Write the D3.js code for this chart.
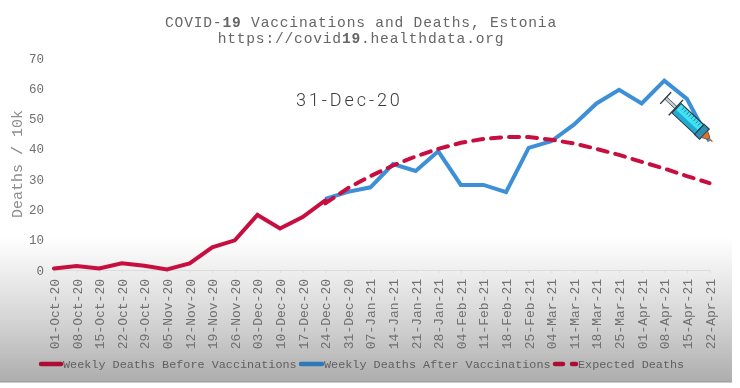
<!DOCTYPE html>
<html><head><meta charset="utf-8">
<script src="https://cdn.jsdelivr.net/npm/d3@7"></script>
<style>html,body{margin:0;padding:0;background:#fff;overflow:hidden}</style></head>
<body><svg id="c" width="740" height="388"></svg>
<script>
const dates=["01-Oct-20","08-Oct-20","15-Oct-20","22-Oct-20","29-Oct-20","05-Nov-20","12-Nov-20","19-Nov-20","26-Nov-20","03-Dec-20","10-Dec-20","17-Dec-20","24-Dec-20","31-Dec-20","07-Jan-21","14-Jan-21","21-Jan-21","28-Jan-21","04-Feb-21","11-Feb-21","18-Feb-21","25-Feb-21","04-Mar-21","11-Mar-21","18-Mar-21","25-Mar-21","01-Apr-21","08-Apr-21","15-Apr-21","22-Apr-21"];
const before=[0.5,1.3,0.5,2.2,1.4,0.2,2.2,7.5,9.8,18.2,13.7,17.5,23];
const after=[23.5,25.8,27.3,35,32.7,39.2,28.1,28.1,25.7,40.3,42.5,48,55,59.5,55,62.5,56.5,42.5];
const expected=[22,27,31,34.5,37.5,40,42,43.3,43.9,43.9,43,41.8,40,38,35.7,33.5,31,28.7];
const afterStart=12;
const yTicks=[0,10,20,30,40,50,60,70];
const titleLines=["COVID-","19"," Vaccinations and Deaths, Estonia"];
const subtitleParts=["https://covid","19",".healthdata.org"];
const legendItems=["Weekly Deaths Before Vaccinations","Weekly Deaths After Vaccinations","Expected Deaths"];
const currentDate="31-Dec-20";
const RED="#c8103f",BLUE="#3d8fd6",LEGRED="#ad0c33",LEGBLUE="#2f78b8",GREY="#707070";
const mono="'Liberation Mono',monospace";

const svg=d3.select("#c");
const defs=svg.append("defs");
const g=defs.append("linearGradient").attr("id","bg").attr("x1",0).attr("x2",0).attr("y1",0).attr("y2",1);
[[0,"#ffffff"],[0.22,"#efefef"],[0.6,"#d2d2d2"],[1,"#adadad"]].forEach(s=>g.append("stop").attr("offset",s[0]).attr("stop-color",s[1]));
defs.append("filter").attr("id","soft").append("feGaussianBlur").attr("stdDeviation",0.35);

const root=svg.append("g").attr("filter","url(#soft)");
root.append("rect").attr("x",0).attr("y",238).attr("width",732).attr("height",144).attr("fill","url(#bg)");
root.append("line").attr("x1",0).attr("x2",732).attr("y1",382).attr("y2",382).attr("stroke","#999").attr("stroke-width",1);

const x=d3.scalePoint().domain(dates).range([54,709.5]);
const y=d3.scaleLinear().domain([0,70]).range([270,58]);

// axes
const ax=root.append("g").attr("transform","translate(0,270)").call(d3.axisBottom(x).tickSize(3).tickSizeOuter(0));
ax.selectAll("path,line").attr("stroke","#dcdcdc").attr("stroke-width",1);
ax.selectAll("text").attr("text-anchor","end").attr("dx",0).attr("dy",0)
  .attr("y",0).attr("x",0)
  .attr("transform","translate(4.5,9) rotate(-90)")
  .attr("font-family",mono).attr("font-size",13).attr("fill",GREY);

const ay=root.append("g").attr("transform","translate(44,0)").call(d3.axisLeft(y).tickValues(yTicks).tickSize(0));
ay.select("path").remove();
ay.selectAll("text").attr("x",0).attr("font-family",mono).attr("font-size",12.5).attr("fill",GREY);

// y title
root.append("text").attr("transform","translate(22,164) rotate(-90)").attr("text-anchor","middle")
  .attr("font-family",mono).attr("font-size",15).attr("fill","#8c8c8c").text("Deaths / 10k");

// title
function rich(parts,yy){
  const t=root.append("text").attr("x",361).attr("y",yy).attr("text-anchor","middle").attr("font-family",mono).attr("font-size",14.6).attr("letter-spacing",0.8).attr("fill","#666");
  parts.forEach((p,i)=>t.append("tspan").attr("font-weight",i==1?"bold":"normal").text(p));
}
rich(titleLines,27);
rich(subtitleParts,43);

// current date
root.append("text").attr("x",296).attr("y",106).attr("font-family","Roboto,sans-serif").attr("font-weight",300).attr("font-size",18).attr("letter-spacing",2.9).attr("fill","#3c3c3c").text(currentDate);

// lines
const line=d3.line().x(d=>x(d.k)).y(d=>y(d.v));
const ser=(arr,s)=>arr.map((v,i)=>({k:dates[i+s],v}));
root.append("path").datum(ser(after,afterStart)).attr("d",line).attr("fill","none").attr("stroke",BLUE).attr("stroke-width",4);
root.append("path").datum(ser(before,0)).attr("d",line).attr("fill","none").attr("stroke",RED).attr("stroke-width",4).attr("stroke-linecap","round");
root.append("path").datum(ser(expected,afterStart)).attr("d",line).attr("fill","none").attr("stroke",RED).attr("stroke-width",4).attr("stroke-dasharray","10 8").attr("stroke-linecap","round");

// legend
const leg=root.append("g").attr("font-family",mono).attr("font-size",11.8).attr("fill","#5f5f5f");
const ly=364;
const swatch=(a,b,c)=>leg.append("line").attr("x1",a).attr("x2",b).attr("y1",ly).attr("y2",ly).attr("stroke",c).attr("stroke-width",4.5).attr("stroke-linecap","round");
swatch(41,61,LEGRED);
leg.append("text").attr("x",63).attr("y",ly+4).text(legendItems[0]);
swatch(301,322,LEGBLUE);
leg.append("text").attr("x",324).attr("y",ly+4).text(legendItems[1]);
swatch(555,563,LEGRED);
swatch(572,576,LEGRED);
leg.append("text").attr("x",578).attr("y",ly+4).text(legendItems[2]);

// syringe icon, anchored at the last "after" point
const dark="#263a4a";
const s=root.append("g").attr("transform",`translate(${x(dates[29])+1.5},${y(after[17])-1}) rotate(43)`);
s.append("line").attr("x1",-62).attr("x2",-48).attr("y1",0).attr("y2",0).attr("stroke","#c4ced2").attr("stroke-width",3);
s.append("line").attr("x1",-62).attr("x2",-48).attr("y1",-1.5).attr("y2",-1.5).attr("stroke",dark).attr("stroke-width",0.7);
s.append("line").attr("x1",-62).attr("x2",-48).attr("y1",1.5).attr("y2",1.5).attr("stroke",dark).attr("stroke-width",0.7);
s.append("line").attr("x1",-62).attr("x2",-62).attr("y1",-8).attr("y2",8).attr("stroke",dark).attr("stroke-width",1.4);
s.append("line").attr("x1",-48).attr("x2",-48).attr("y1",-10.5).attr("y2",10.5).attr("stroke",dark).attr("stroke-width",1.4);
s.append("rect").attr("x",-47).attr("y",-6.5).attr("width",31).attr("height",13).attr("fill","#3fe3f2").attr("stroke",dark).attr("stroke-width",1.2);
s.append("rect").attr("x",-46).attr("y",1.5).attr("width",29).attr("height",4.4).attr("fill","#22a9d0");
d3.range(-42,-18,3.2).forEach(t=>s.append("line").attr("x1",t).attr("x2",t).attr("y1",-5.8).attr("y2",-2).attr("stroke",dark).attr("stroke-width",0.6));
s.append("rect").attr("x",-16).attr("y",-7).attr("width",7).attr("height",14).attr("fill","#2d8fb6").attr("stroke",dark).attr("stroke-width",1.2);
s.append("path").attr("d",d3.line()([[-9,-4.5],[-3,-1.5],[-3,1.5],[-9,4.5]])+"Z").attr("fill","#d9772f").attr("stroke","#5a3a28").attr("stroke-width",0.7);
s.append("line").attr("x1",-3).attr("x2",2).attr("y1",0).attr("y2",0).attr("stroke","#c76a2a").attr("stroke-width",1.4);
</script></body></html>
